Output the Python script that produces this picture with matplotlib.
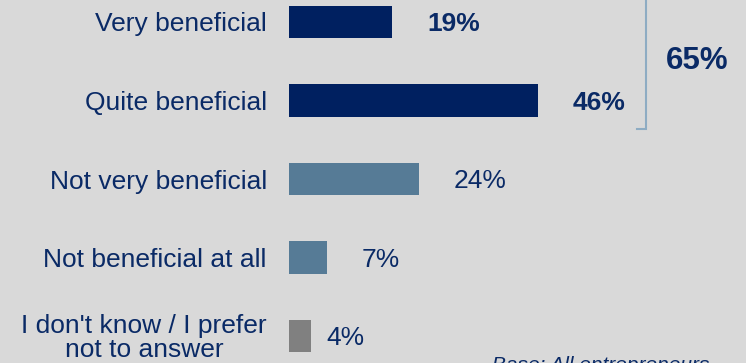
import matplotlib
matplotlib.use("Agg")
import matplotlib.pyplot as plt

plt.rcParams['font.family'] = ['Liberation Sans', 'DejaVu Sans']

categories = ["Very beneficial", "Quite beneficial", "Not very beneficial",
              "Not beneficial at all", "I don't know / I prefer\nnot to answer"]
values = [19, 46, 24, 7, 4]
value_labels = ["19%", "46%", "24%", "7%", "4%"]
bold_flags = [True, True, False, False, False]
group_total_label = "65%"
base_note = "Base: All entrepreneurs"

NAVY = "#002060"
STEEL = "#567b96"
GRAY = "#808080"
TEXT = "#0a2a66"
BG = "#d9d9d9"
bar_colors = [NAVY, NAVY, STEEL, STEEL, GRAY]

W, H = 746, 363
fig = plt.figure(figsize=(W / 100, H / 100), dpi=100, facecolor=BG)
x0 = 289
px_per_pct = 5.41
ax = fig.add_axes([x0 / W, 0, 1 - x0 / W, 1])
ax.set_facecolor(BG)
ax.set_xlim(0, (W - x0) / px_per_pct)
top_i = -22 / 78.5
bot_i = (H - 22) / 78.5
ax.set_ylim(bot_i, top_i)

ypos = list(range(len(categories)))
ax.barh(ypos, values, height=0.41, color=bar_colors, left=0)

ax.set_yticks(ypos)
ax.set_yticklabels(categories, fontsize=19, color=TEXT, linespacing=0.95)
for t in ax.get_yticklabels():
    t.set_multialignment('center')
ax.tick_params(axis='y', length=0, pad=16)
ax.set_xticks([])
for s in ax.spines.values():
    s.set_visible(False)

for i, (v, lab, b) in enumerate(zip(values, value_labels, bold_flags)):
    off = 6.5 if v >= 5 else 3.0
    ax.text(v + off, i + 0.03, lab, ha='left', va='center', fontsize=19,
            color=TEXT, fontweight='bold' if b else 'normal')

# bracket around the first two categories
bx = 66.0
ax.plot([bx - 1.7, bx, bx], [1.363, 1.363, top_i - 0.1], color="#8eacc3",
        lw=1.5, clip_on=False, solid_joinstyle='miter')
ax.text(75.4, 0.5, group_total_label, ha='center', va='center', fontsize=22.5,
        fontweight='bold', color=TEXT)

fig.text(492 / W, 1 - 356 / H, base_note, ha='left', va='top', fontsize=15,
         style='italic', color=TEXT)

fig.savefig("out.png", dpi=100, facecolor=BG)
